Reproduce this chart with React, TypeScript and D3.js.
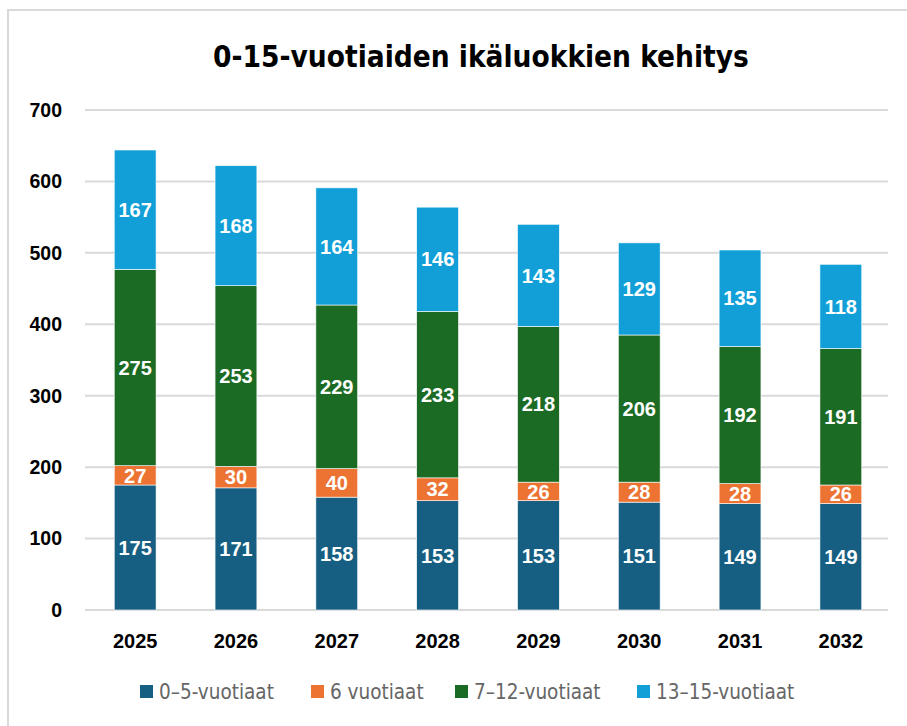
import React, { useEffect, useRef } from 'react';
import * as d3 from 'd3';

const years = ['2025', '2026', '2027', '2028', '2029', '2030', '2031', '2032'];
const seriesNames = ['0–5-vuotiaat', '6 vuotiaat', '7–12-vuotiaat', '13–15-vuotiaat'];
const colors = ['#175f82', '#ec7332', '#1c6b25', '#129fd8'];
const age0to5 = [175, 171, 158, 153, 153, 151, 149, 149];
const age6 = [27, 30, 40, 32, 26, 28, 28, 26];
const age7to12 = [275, 253, 229, 233, 218, 206, 192, 191];
const age13to15 = [167, 168, 164, 146, 143, 129, 135, 118];
const yTicks = [0, 100, 200, 300, 400, 500, 600, 700];

const App = () => {
  const ref = useRef<SVGSVGElement>(null);

  useEffect(() => {
    if (!ref.current) return;
    const svg = d3.select(ref.current);
    svg.selectAll('*').remove();

    const W = 907, H = 726;
    const left = 85, right = 891, top = 110, bottom = 610;
    const narrow = "'Liberation Sans Narrow', 'Arial Narrow', 'DejaVu Sans Condensed', sans-serif";
    const sans = "'Liberation Sans', Arial, sans-serif";

    // frame
    svg.append('rect')
      .attr('x', 8).attr('y', 10).attr('width', W + 10).attr('height', H + 10)
      .attr('fill', 'white').attr('stroke', '#d9d9d9').attr('stroke-width', 2);

    svg.append('text')
      .attr('x', 481).attr('y', 67)
      .attr('text-anchor', 'middle')
      .style('font-family', narrow)
      .style('font-weight', 'bold')
      .style('font-size', '29.5px')
      .attr('fill', '#000')
      .text('0-15-vuotiaiden ikäluokkien kehitys');

    const x = d3.scaleBand().domain(years).range([left, right]).paddingInner(0.585).paddingOuter(0.29);
    const y = d3.scaleLinear().domain([0, 700]).range([bottom, top]);

    // grid + y labels
    yTicks.forEach(t => {
      svg.append('line')
        .attr('x1', left).attr('x2', 888)
        .attr('y1', y(t)).attr('y2', y(t))
        .attr('stroke', '#d9d9d9').attr('stroke-width', 2);
      svg.append('text')
        .attr('x', 62).attr('y', y(t))
        .attr('dy', '0.35em')
        .attr('text-anchor', 'end')
        .style('font-family', sans).style('font-weight', 'bold').style('font-size', '19.5px')
        .attr('fill', '#000')
        .text(t);
    });

    // x labels
    years.forEach(yr => {
      svg.append('text')
        .attr('x', (x(yr) || 0) + x.bandwidth() / 2).attr('y', 648)
        .attr('text-anchor', 'middle')
        .style('font-family', sans).style('font-weight', 'bold').style('font-size', '20px')
        .attr('fill', '#000')
        .text(yr);
    });

    const table = years.map((yr, i) => ({
      year: yr,
      [seriesNames[0]]: age0to5[i],
      [seriesNames[1]]: age6[i],
      [seriesNames[2]]: age7to12[i],
      [seriesNames[3]]: age13to15[i],
    }));
    const stacked = d3.stack<any>().keys(seriesNames)(table);

    stacked.forEach((layer, li) => {
      const g = svg.append('g');
      g.selectAll('rect')
        .data(layer)
        .enter()
        .append('rect')
        .attr('x', d => x(d.data.year) || 0)
        .attr('y', d => y(d[1]))
        .attr('width', x.bandwidth())
        .attr('height', d => y(d[0]) - y(d[1]))
        .attr('fill', colors[li])
        .attr('stroke', 'white').attr('stroke-width', 0.6);
      g.selectAll('text')
        .data(layer)
        .enter()
        .append('text')
        .attr('x', d => (x(d.data.year) || 0) + x.bandwidth() / 2)
        .attr('y', d => (y(d[0]) + y(d[1])) / 2)
        .attr('dy', '0.36em')
        .attr('text-anchor', 'middle')
        .style('font-family', sans).style('font-weight', 'bold').style('font-size', '20px')
        .attr('fill', 'white')
        .text(d => d[1] - d[0]);
    });

    // legend
    const legendX = [140, 311, 455, 637];
    seriesNames.forEach((name, i) => {
      svg.append('rect')
        .attr('x', legendX[i]).attr('y', 685).attr('width', 13).attr('height', 13)
        .attr('fill', colors[i]);
      svg.append('text')
        .attr('x', legendX[i] + 19).attr('y', 699)
        .style('font-family', narrow).style('font-size', '20.5px')
        .attr('fill', '#666666')
        .text(name);
    });
  }, []);

  return (
    <svg ref={ref} width={907} height={726}
      style={{ position: 'absolute', left: 0, top: 0, display: 'block' }} />
  );
};

export default App;
